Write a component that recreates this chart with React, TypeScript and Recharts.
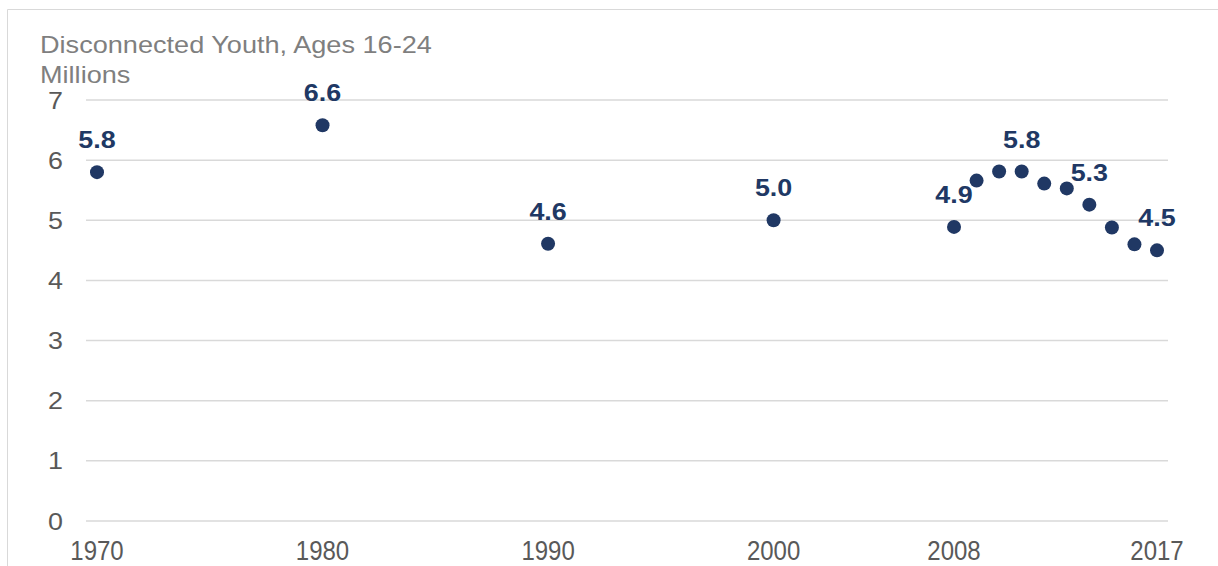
import { ScatterChart, Scatter, XAxis, YAxis, CartesianGrid } from 'recharts'

const YEARS = [1970, 1980, 1990, 2000, 2008, 2009, 2010, 2011, 2012, 2013, 2014, 2015, 2016, 2017]
const YOUTH_MILLIONS = [5.8, 6.58, 4.61, 5.0, 4.89, 5.66, 5.81, 5.81, 5.61, 5.53, 5.26, 4.88, 4.6, 4.5]
const LABELED_YEARS = [1970, 1980, 1990, 2000, 2008, 2011, 2014, 2017]
const X_TICKS = [1970, 1980, 1990, 2000, 2008, 2017]
const Y_TICKS = [0, 1, 2, 3, 4, 5, 6, 7]

const FONT = '"Liberation Sans", Arial, sans-serif'
const NAVY = '#203864'
const GRID = '#d9d9d9'

const data = YEARS.map((year, i) => ({
    year,
    value: YOUTH_MILLIONS[i],
    labeled: LABELED_YEARS.includes(year),
}))

function Dot(props: any) {
    const { cx, cy, payload } = props
    return (
        <g>
            <circle cx={cx} cy={cy} r={7} fill={NAVY} />
            {payload.labeled && (
                <text
                    transform={`translate(${cx},${cy - 24}) scale(1.12,1)`}
                    textAnchor='middle'
                    fontFamily={FONT}
                    fontSize={24}
                    fontWeight='bold'
                    fill={NAVY}
                >
                    {payload.value.toFixed(1)}
                </text>
            )}
        </g>
    )
}

function XTick(props: any) {
    const { x, y, payload } = props
    return (
        <text
            transform={`translate(${x},${y + 39}) scale(1,1.18)`}
            textAnchor='middle'
            fontFamily={FONT}
            fontSize={24}
            fill='#595959'
        >
            {payload.value}
        </text>
    )
}

function YTick(props: any) {
    const { x, y, payload } = props
    return (
        <text
            transform={`translate(${x},${y + 8.5}) scale(1.12,1)`}
            textAnchor='end'
            fontFamily={FONT}
            fontSize={24}
            fill='#595959'
        >
            {payload.value}
        </text>
    )
}

export default function App() {
    return (
        <div style={{ position: 'absolute', left: 0, top: 0, width: 1218, height: 566, background: '#fff' }}>
            <svg
                width={1218}
                height={566}
                style={{ position: 'absolute', left: 0, top: 0, pointerEvents: 'none' }}
            >
                <line x1={7.5} y1={9.5} x2={1218} y2={9.5} stroke={GRID} />
                <line x1={7.5} y1={9.5} x2={7.5} y2={566} stroke={GRID} />
                <text transform='translate(40,53) scale(1.13,1)' fontFamily={FONT} fontSize={24} fill='#7f7f7f'>
                    Disconnected Youth, Ages 16-24
                </text>
                <text transform='translate(40,83) scale(1.13,1)' fontFamily={FONT} fontSize={24} fill='#7f7f7f'>
                    Millions
                </text>
            </svg>
            <ScatterChart
                width={1218}
                height={566}
                margin={{ top: 100, right: 50, bottom: 0, left: 0 }}
                style={{ position: 'absolute', left: 0, top: 0 }}
            >
                <CartesianGrid vertical={false} stroke={GRID} strokeWidth={1.5} />
                <XAxis
                    type='number'
                    dataKey='year'
                    domain={[1970, 2017]}
                    ticks={X_TICKS}
                    padding={{ left: 11, right: 11 }}
                    height={45}
                    tickSize={0}
                    tickMargin={0}
                    tickLine={false}
                    axisLine={false}
                    tick={<XTick />}
                    interval={0}
                />
                <YAxis
                    type='number'
                    dataKey='value'
                    domain={[0, 7]}
                    ticks={Y_TICKS}
                    width={86}
                    tickSize={0}
                    tickMargin={23}
                    tickLine={false}
                    axisLine={false}
                    tick={<YTick />}
                    interval={0}
                />
                <Scatter data={data} shape={<Dot />} isAnimationActive={false} />
            </ScatterChart>
        </div>
    )
}
